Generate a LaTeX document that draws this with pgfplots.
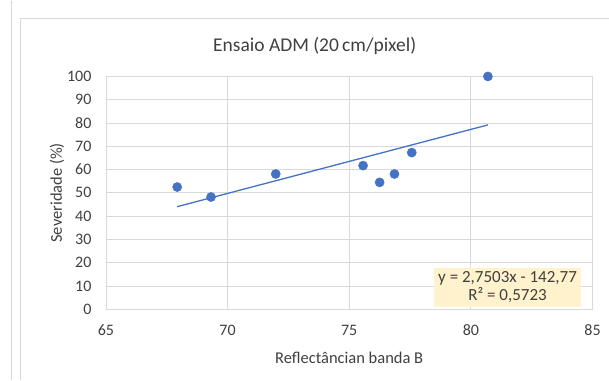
\documentclass[border=0pt]{standalone}
\usepackage{pgfplots}
\pgfplotsset{compat=1.18}
\usepackage{fontspec}
\setmainfont{Carlito}
\definecolor{xblue}{HTML}{4472C4}
\definecolor{xgrid}{HTML}{D9D9D9}
\definecolor{xtext}{HTML}{404040}
\definecolor{xbox}{HTML}{FFF2CC}
\begin{document}
\begin{tikzpicture}[x=1pt,y=1pt]
\path[fill=white] (0,0) rectangle (609,-380);
\draw[xgrid,line width=1pt] (12,0) -- (12,-380);
\draw[xgrid,line width=1pt] (20.5,-380) -- (20.5,-18.5) -- (609,-18.5);
\node[font=\fontsize{19.5}{22}\selectfont,text=xtext] at (315,-45) {Ensaio ADM (20\,cm/pixel)};
\begin{axis}[
  at={(106pt,-309pt)}, anchor=south west,
  scale only axis, width=487pt, height=233pt,
  xmin=65, xmax=85, ymin=0, ymax=100,
  xtick distance=5, ytick distance=10,
  grid=major, major grid style={xgrid,line width=0.8pt},
  axis line style={xgrid,line width=0.8pt},
  major tick length=0pt,
  tick label style={font=\fontsize{16}{19}\selectfont,text=xtext},
  /pgf/number format/assume math mode=true,
  xticklabel style={yshift=-12pt},
  yticklabel style={xshift=-11pt},
  xlabel={Reflectâncian banda B},
  ylabel={Severidade (\%)},
  label style={font=\fontsize{16.5}{19}\selectfont,text=xtext},
  xlabel style={yshift=-9pt},
  ylabel style={yshift=-4pt},
  clip=false,
]
\addplot[only marks, mark=*, mark size=4.6pt, mark options={fill=xblue,draw=xblue}] coordinates {
(67.93,52.5) (69.32,48.2) (71.98,58.1) (75.57,61.7) (76.25,54.5) (76.86,58.1) (77.57,67.3) (80.70,100)
};
\addplot[xblue, line width=1.3pt] coordinates {(67.93,44.06) (80.70,79.18)};
\node[fill=xbox, align=center, font=\fontsize{17}{18}\selectfont, text=xtext, inner xsep=4.5pt, inner ysep=4pt, anchor=south east] at (axis cs:84.55,1) {y = 2,7503x - 142,77\\R² = 0,5723};
\end{axis}
\end{tikzpicture}
\end{document}
